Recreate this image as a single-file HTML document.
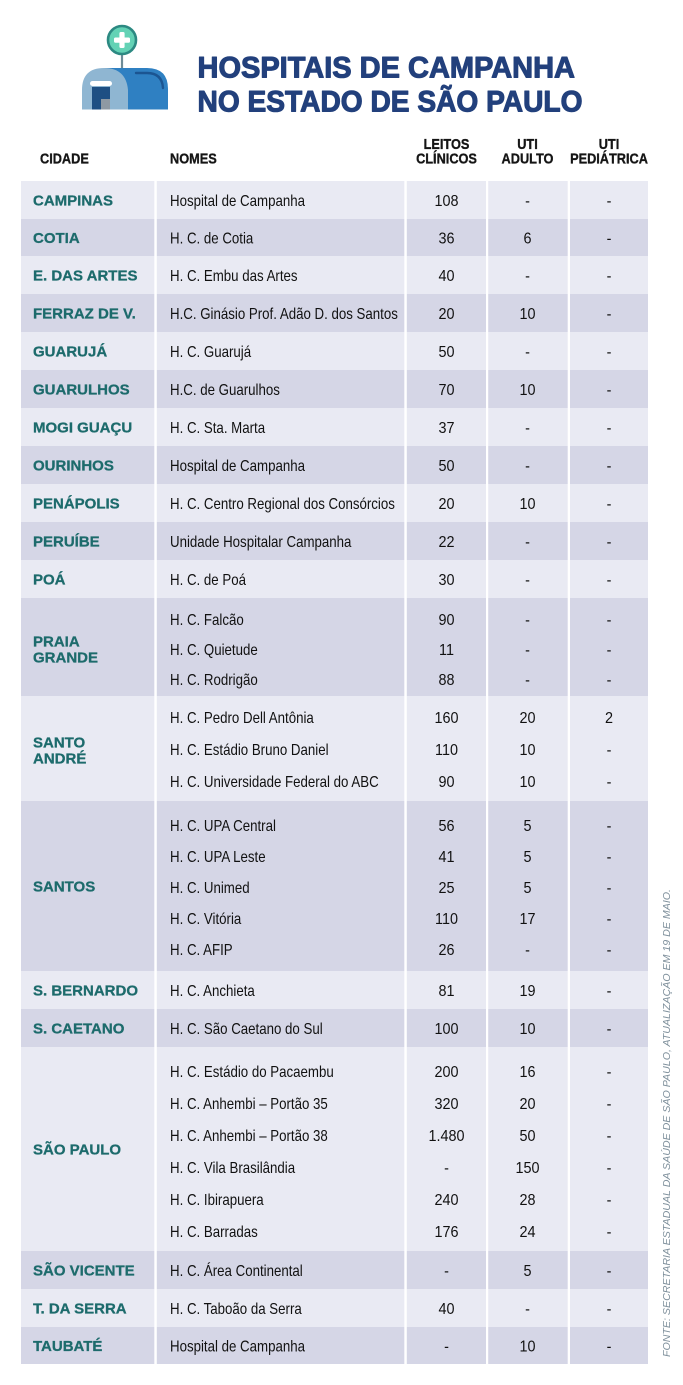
<!DOCTYPE html>
<html>
<head>
<meta charset="utf-8">
<style>
  html,body{margin:0;padding:0;background:#fff;}
  svg{display:block;}
  text{font-family:"Liberation Sans", sans-serif;}
</style>
</head>
<body>
<svg width="683" height="1385" viewBox="0 0 683 1385" xmlns="http://www.w3.org/2000/svg">
  <rect x="0" y="0" width="683" height="1385" fill="#ffffff"/>

  <!-- Icon -->
  <line x1="122" y1="54" x2="122" y2="70" stroke="#6d8b97" stroke-width="2.2"/>
  <path d="M104,68 H147 Q168,68 168,89 V109.5 H104 Z" fill="#2f80c2"/>
  <path d="M136,73 H147 Q162,73 163,88" fill="none" stroke="#1b5592" stroke-width="2.4" stroke-linecap="round"/>
  <path d="M82,109.5 V90 Q82,68 104,68 Q126,68 128,90 V109.5 Z" fill="#8fb6d2"/>
  <rect x="90" y="81" width="22" height="5" rx="2.5" fill="#ffffff"/>
  <rect x="92" y="87" width="18" height="22.5" fill="#1e4f83"/>
  <rect x="101" y="99" width="9" height="10.5" fill="#8e99a3"/>
  <rect x="96" y="99" width="5" height="3" fill="#1e4f83"/>
  <circle cx="122" cy="40" r="14" fill="#63d2b5" stroke="#2c8982" stroke-width="2.6"/>
  <rect x="114" y="37.5" width="16" height="5.2" rx="1.5" fill="#ffffff"/>
  <rect x="119.4" y="32" width="5.2" height="16" rx="1.5" fill="#ffffff"/>

  <!-- Title -->
  <g font-size="30" font-weight="bold" fill="#22407c" stroke="#22407c" stroke-width="1.1" stroke-linejoin="round">
    <text x="197.5" y="77.5" textLength="377.5" lengthAdjust="spacingAndGlyphs">HOSPITAIS DE CAMPANHA</text>
    <text x="197.5" y="111.5" textLength="385" lengthAdjust="spacingAndGlyphs">NO ESTADO DE SÃO PAULO</text>
  </g>

  <!-- Header -->
  <g font-size="15" font-weight="bold" fill="#151515" stroke="#151515" stroke-width="0.35">
    <g transform="translate(40,163.5) scale(0.85,1)"><text x="0" y="0">CIDADE</text></g>
    <g transform="translate(170,163.5) scale(0.85,1)"><text x="0" y="0">NOMES</text></g>
    <g transform="translate(446.5,0) scale(0.85,1)" text-anchor="middle">
      <text x="0" y="149">LEITOS</text>
      <text x="0" y="163.5">CLÍNICOS</text>
    </g>
    <g transform="translate(527.5,0) scale(0.85,1)" text-anchor="middle">
      <text x="0" y="149">UTI</text>
      <text x="0" y="163.5">ADULTO</text>
    </g>
    <g transform="translate(609,0) scale(0.85,1)" text-anchor="middle">
      <text x="0" y="149">UTI</text>
      <text x="0" y="163.5">PEDIÁTRICA</text>
    </g>
  </g>

  <!-- Row backgrounds -->
  <g>
    <g fill="#e9eaf3">
      <rect x="21" y="181" width="627" height="38"/>
      <rect x="21" y="256" width="627" height="38"/>
      <rect x="21" y="332" width="627" height="38"/>
      <rect x="21" y="408" width="627" height="38"/>
      <rect x="21" y="484" width="627" height="38"/>
      <rect x="21" y="560" width="627" height="38"/>
      <rect x="21" y="696" width="627" height="105"/>
      <rect x="21" y="971" width="627" height="38"/>
      <rect x="21" y="1047" width="627" height="204"/>
      <rect x="21" y="1289" width="627" height="38"/>
    </g>
    <g fill="#d5d6e6">
      <rect x="21" y="219" width="627" height="37"/>
      <rect x="21" y="294" width="627" height="38"/>
      <rect x="21" y="370" width="627" height="38"/>
      <rect x="21" y="446" width="627" height="38"/>
      <rect x="21" y="522" width="627" height="38"/>
      <rect x="21" y="598" width="627" height="98"/>
      <rect x="21" y="801" width="627" height="170"/>
      <rect x="21" y="1009" width="627" height="38"/>
      <rect x="21" y="1251" width="627" height="38"/>
      <rect x="21" y="1327" width="627" height="37"/>
    </g>
    <g fill="#ffffff">
      <rect x="154.3" y="181" width="2.5" height="1183"/>
      <rect x="404.3" y="181" width="2.5" height="1183"/>
      <rect x="486" y="181" width="2.2" height="1183"/>
      <rect x="567.7" y="181" width="2.3" height="1183"/>
    </g>
  </g>

  <!-- City labels -->
  <g font-size="15" font-weight="bold" fill="#1d6b6c" stroke="#1d6b6c" stroke-width="0.3">
    <text x="33" y="205.4">CAMPINAS</text>
    <text x="33" y="243">COTIA</text>
    <text x="33" y="280.4">E. DAS ARTES</text>
    <text x="33" y="318.4">FERRAZ DE V.</text>
    <text x="33" y="356.4">GUARUJÁ</text>
    <text x="33" y="394.4">GUARULHOS</text>
    <text x="33" y="432.4">MOGI GUAÇU</text>
    <text x="33" y="470.4">OURINHOS</text>
    <text x="33" y="508.4">PENÁPOLIS</text>
    <text x="33" y="546.4">PERUÍBE</text>
    <text x="33" y="584.4">POÁ</text>
    <text x="33" y="646.4">PRAIA</text>
    <text x="33" y="662.4">GRANDE</text>
    <text x="33" y="747.4">SANTO</text>
    <text x="33" y="763.4">ANDRÉ</text>
    <text x="33" y="891.4">SANTOS</text>
    <text x="33" y="995.4">S. BERNARDO</text>
    <text x="33" y="1033.4">S. CAETANO</text>
    <text x="33" y="1154.4">SÃO PAULO</text>
    <text x="33" y="1275.4">SÃO VICENTE</text>
    <text x="33" y="1313.4">T. DA SERRA</text>
    <text x="33" y="1351">TAUBATÉ</text>
  </g>

  <!-- Names -->
  <g transform="translate(170,0) scale(0.83,1)" font-size="16" fill="#111111">
    <text x="0" y="205.8">Hospital de Campanha</text>
    <text x="0" y="243.3">H. C. de Cotia</text>
    <text x="0" y="280.8">H. C. Embu das Artes</text>
    <text x="0" y="318.8">H.C. Ginásio Prof. Adão D. dos Santos</text>
    <text x="0" y="356.8">H. C. Guarujá</text>
    <text x="0" y="394.8">H.C. de Guarulhos</text>
    <text x="0" y="432.8">H. C. Sta. Marta</text>
    <text x="0" y="470.8">Hospital de Campanha</text>
    <text x="0" y="508.8">H. C. Centro Regional dos Consórcios</text>
    <text x="0" y="546.8">Unidade Hospitalar Campanha</text>
    <text x="0" y="584.8">H. C. de Poá</text>
    <text x="0" y="624.8">H. C. Falcão</text>
    <text x="0" y="654.8">H. C. Quietude</text>
    <text x="0" y="684.8">H. C. Rodrigão</text>
    <text x="0" y="722.8">H. C. Pedro Dell Antônia</text>
    <text x="0" y="754.8">H. C. Estádio Bruno Daniel</text>
    <text x="0" y="786.8">H. C. Universidade Federal do ABC</text>
    <text x="0" y="830.8">H. C. UPA Central</text>
    <text x="0" y="861.8">H. C. UPA Leste</text>
    <text x="0" y="892.8">H. C. Unimed</text>
    <text x="0" y="923.8">H. C. Vitória</text>
    <text x="0" y="954.8">H. C. AFIP</text>
    <text x="0" y="995.8">H. C. Anchieta</text>
    <text x="0" y="1033.8">H. C. São Caetano do Sul</text>
    <text x="0" y="1076.8">H. C. Estádio do Pacaembu</text>
    <text x="0" y="1108.8">H. C. Anhembi – Portão 35</text>
    <text x="0" y="1140.8">H. C. Anhembi – Portão 38</text>
    <text x="0" y="1172.8">H. C. Vila Brasilândia</text>
    <text x="0" y="1204.8">H. C. Ibirapuera</text>
    <text x="0" y="1236.8">H. C. Barradas</text>
    <text x="0" y="1275.8">H. C. Área Continental</text>
    <text x="0" y="1313.8">H. C. Taboão da Serra</text>
    <text x="0" y="1351.3">Hospital de Campanha</text>
  </g>

  <!-- LEITOS CLÍNICOS -->
  <g transform="translate(446.5,0) scale(0.9,1)" font-size="16" fill="#111111" text-anchor="middle">
    <text x="0" y="205.8">108</text>
    <text x="0" y="243.3">36</text>
    <text x="0" y="280.8">40</text>
    <text x="0" y="318.8">20</text>
    <text x="0" y="356.8">50</text>
    <text x="0" y="394.8">70</text>
    <text x="0" y="432.8">37</text>
    <text x="0" y="470.8">50</text>
    <text x="0" y="508.8">20</text>
    <text x="0" y="546.8">22</text>
    <text x="0" y="584.8">30</text>
    <text x="0" y="624.8">90</text>
    <text x="0" y="654.8">11</text>
    <text x="0" y="684.8">88</text>
    <text x="0" y="722.8">160</text>
    <text x="0" y="754.8">110</text>
    <text x="0" y="786.8">90</text>
    <text x="0" y="830.8">56</text>
    <text x="0" y="861.8">41</text>
    <text x="0" y="892.8">25</text>
    <text x="0" y="923.8">110</text>
    <text x="0" y="954.8">26</text>
    <text x="0" y="995.8">81</text>
    <text x="0" y="1033.8">100</text>
    <text x="0" y="1076.8">200</text>
    <text x="0" y="1108.8">320</text>
    <text x="0" y="1140.8">1.480</text>
    <text x="0" y="1172.8">-</text>
    <text x="0" y="1204.8">240</text>
    <text x="0" y="1236.8">176</text>
    <text x="0" y="1275.8">-</text>
    <text x="0" y="1313.8">40</text>
    <text x="0" y="1351.3">-</text>
  </g>

  <!-- UTI ADULTO -->
  <g transform="translate(527.5,0) scale(0.9,1)" font-size="16" fill="#111111" text-anchor="middle">
    <text x="0" y="205.8">-</text>
    <text x="0" y="243.3">6</text>
    <text x="0" y="280.8">-</text>
    <text x="0" y="318.8">10</text>
    <text x="0" y="356.8">-</text>
    <text x="0" y="394.8">10</text>
    <text x="0" y="432.8">-</text>
    <text x="0" y="470.8">-</text>
    <text x="0" y="508.8">10</text>
    <text x="0" y="546.8">-</text>
    <text x="0" y="584.8">-</text>
    <text x="0" y="624.8">-</text>
    <text x="0" y="654.8">-</text>
    <text x="0" y="684.8">-</text>
    <text x="0" y="722.8">20</text>
    <text x="0" y="754.8">10</text>
    <text x="0" y="786.8">10</text>
    <text x="0" y="830.8">5</text>
    <text x="0" y="861.8">5</text>
    <text x="0" y="892.8">5</text>
    <text x="0" y="923.8">17</text>
    <text x="0" y="954.8">-</text>
    <text x="0" y="995.8">19</text>
    <text x="0" y="1033.8">10</text>
    <text x="0" y="1076.8">16</text>
    <text x="0" y="1108.8">20</text>
    <text x="0" y="1140.8">50</text>
    <text x="0" y="1172.8">150</text>
    <text x="0" y="1204.8">28</text>
    <text x="0" y="1236.8">24</text>
    <text x="0" y="1275.8">5</text>
    <text x="0" y="1313.8">-</text>
    <text x="0" y="1351.3">10</text>
  </g>

  <!-- UTI PEDIÁTRICA -->
  <g transform="translate(609,0) scale(0.9,1)" font-size="16" fill="#111111" text-anchor="middle">
    <text x="0" y="205.8">-</text>
    <text x="0" y="243.3">-</text>
    <text x="0" y="280.8">-</text>
    <text x="0" y="318.8">-</text>
    <text x="0" y="356.8">-</text>
    <text x="0" y="394.8">-</text>
    <text x="0" y="432.8">-</text>
    <text x="0" y="470.8">-</text>
    <text x="0" y="508.8">-</text>
    <text x="0" y="546.8">-</text>
    <text x="0" y="584.8">-</text>
    <text x="0" y="624.8">-</text>
    <text x="0" y="654.8">-</text>
    <text x="0" y="684.8">-</text>
    <text x="0" y="722.8">2</text>
    <text x="0" y="754.8">-</text>
    <text x="0" y="786.8">-</text>
    <text x="0" y="830.8">-</text>
    <text x="0" y="861.8">-</text>
    <text x="0" y="892.8">-</text>
    <text x="0" y="923.8">-</text>
    <text x="0" y="954.8">-</text>
    <text x="0" y="995.8">-</text>
    <text x="0" y="1033.8">-</text>
    <text x="0" y="1076.8">-</text>
    <text x="0" y="1108.8">-</text>
    <text x="0" y="1140.8">-</text>
    <text x="0" y="1172.8">-</text>
    <text x="0" y="1204.8">-</text>
    <text x="0" y="1236.8">-</text>
    <text x="0" y="1275.8">-</text>
    <text x="0" y="1313.8">-</text>
    <text x="0" y="1351.3">-</text>
  </g>

  <!-- Vertical source note -->
  <text transform="translate(670,1357) rotate(-90)" x="0" y="0" font-size="10.5" font-style="italic" fill="#7f909c" textLength="468" lengthAdjust="spacingAndGlyphs">FONTE: SECRETARIA ESTADUAL DA SAÚDE DE SÃO PAULO, ATUALIZAÇÃO EM 19 DE MAIO.</text>
</svg>
</body>
</html>
